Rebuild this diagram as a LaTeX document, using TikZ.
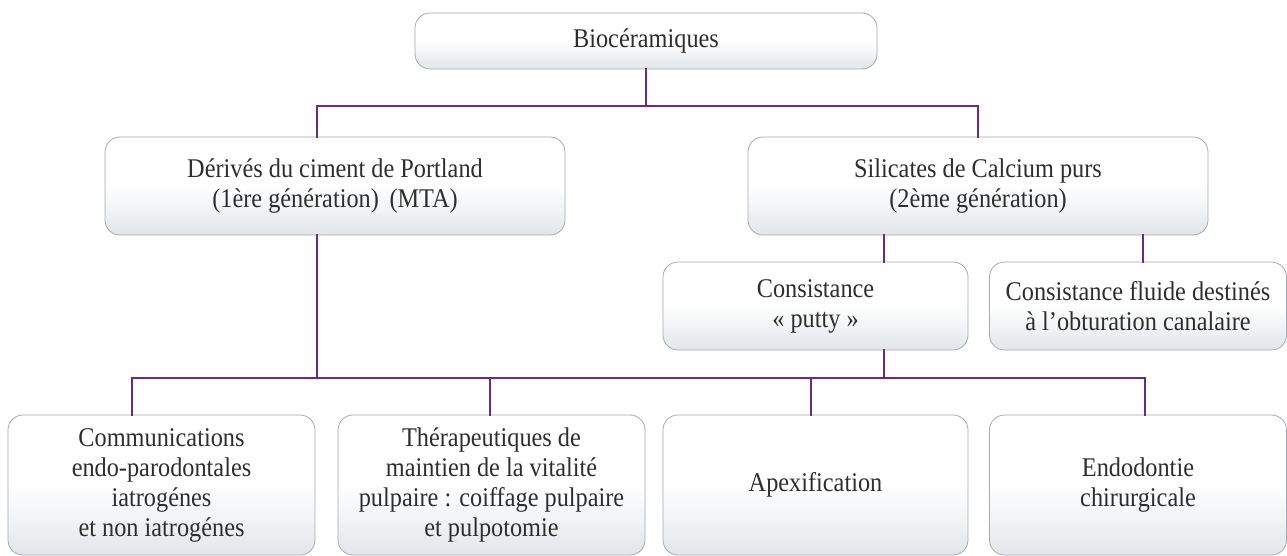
\documentclass[tikz,border=0pt]{standalone}
\usepackage{fontspec}
\setmainfont{Liberation Serif}[FakeStretch=0.9]
\usetikzlibrary{calc}
\definecolor{linkc}{HTML}{6B2A84}
\definecolor{boxline}{HTML}{A3ABB3}
\definecolor{boxbot}{HTML}{E2E6EA}
\definecolor{txt}{HTML}{2E2E2E}
\tikzset{
  box/.style={draw=boxline, line width=0.8pt, rounded corners=15pt,
    top color=white, bottom color=boxbot, middle color=white,
    align=center, text=txt, inner sep=0pt,
    font=\fontsize{27}{30}\selectfont},
  link/.style={draw=linkc, line width=2.8pt, line cap=rect}
}
\begin{document}
\begin{tikzpicture}[x=1pt,y=-1pt]
\useasboundingbox (0,0) rectangle (1287,556);
\node[box, minimum width=462pt, minimum height=56pt] (bio) at (646,41) {Biocéramiques};
\node[box, minimum width=460pt, minimum height=98pt] (der) at (335,186) {Dérivés du ciment de Portland\\(1ère génération) \,(MTA)};
\node[box, minimum width=460pt, minimum height=98pt] (sil) at (978,186) {Silicates de Calcium purs\\(2ème génération)};
\node[box, minimum width=305pt, minimum height=88pt] (put) at (815.5,306) {Consistance\\« putty »};
\node[box, minimum width=297pt, minimum height=88pt] (flu) at (1138,306) {Consistance fluide destinés\\à l’obturation canalaire};
\node[box, minimum width=307pt, minimum height=140pt] (b1) at (161.5,485) {Communications\\endo-parodontales\\iatrogénes\\et non iatrogénes};
\node[box, minimum width=307pt, minimum height=140pt] (b2) at (491.5,485) {Thérapeutiques de\\maintien de la vitalité\\pulpaire : coiffage pulpaire\\et pulpotomie};
\node[box, minimum width=305pt, minimum height=140pt] (b3) at (815.5,485) {Apexification};
\node[box, minimum width=297pt, minimum height=140pt] (b4) at (1138,485) {Endodontie\\chirurgicale};
\coordinate (ta) at (317,106);
\coordinate (hb) at (0,378);
\coordinate (xa) at (132,0);
\coordinate (xb) at (490,0);
\coordinate (xc) at (811,0);
\coordinate (xd) at (1145,0);
\coordinate (xp) at (884,0);
\coordinate (xf) at (1143,0);
\draw[link] (bio.south) -- (bio.south |- ta);
\draw[link] (ta |- der.north) -- (ta) -| (sil.north);
\draw[link] (sil.south -| xp) -- (put.north -| xp);
\draw[link] (sil.south -| xf) -- (flu.north -| xf);
\draw[link] (der.south -| ta) -- (ta |- hb);
\draw[link] (put.south -| xp) -- (xp |- hb);
\draw[link] (b1.north -| xa) -- (xa |- hb) -- (xd |- hb) -- (b4.north -| xd);
\draw[link] (xb |- hb) -- (b2.north -| xb);
\draw[link] (xc |- hb) -- (b3.north -| xc);
\end{tikzpicture}
\end{document}
